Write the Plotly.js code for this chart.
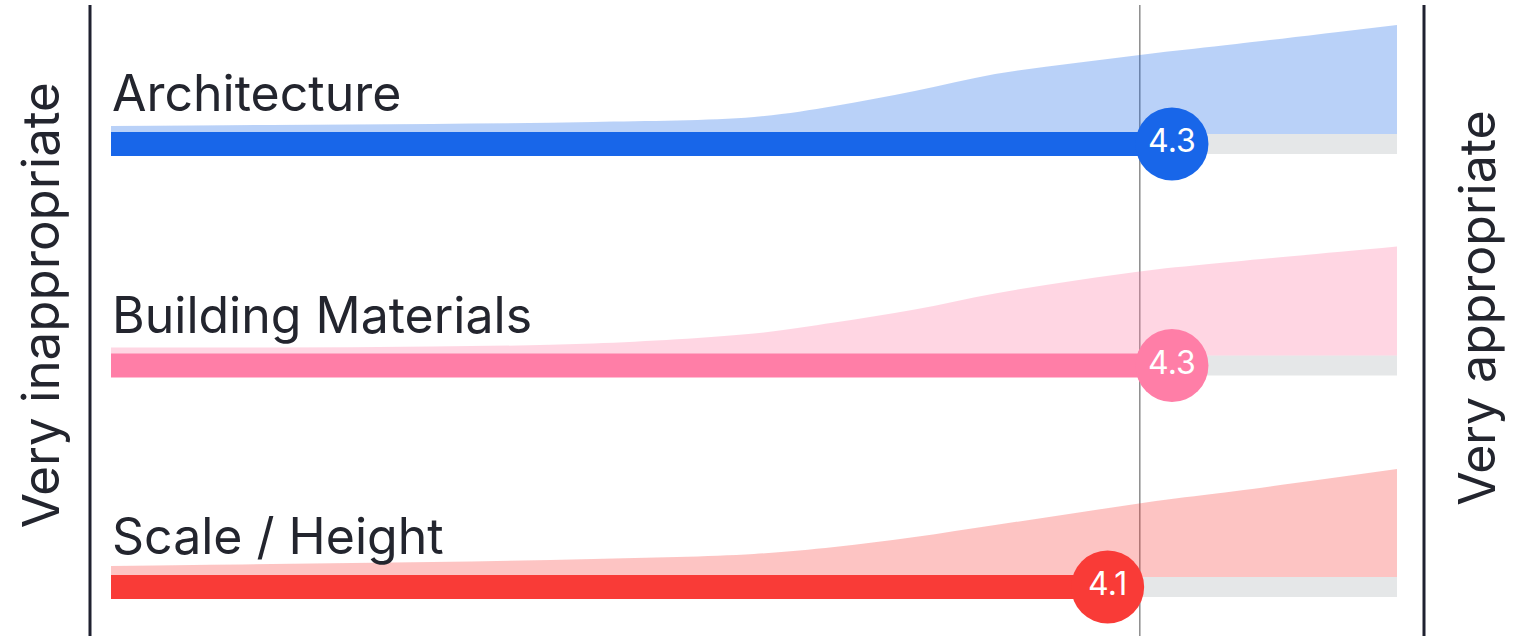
<!DOCTYPE html>
<html>
<head>
<meta charset="utf-8">
<script src="https://cdn.plot.ly/plotly-3.0.1.min.js"></script>
<style>
  html, body { margin: 0; padding: 0; background: #ffffff; }
  #chart { width: 1524px; height: 636px; }
</style>
</head>
<body>
<div id="chart"></div>
<script>
// ---------- data ----------
const categories = ["Architecture", "Building Materials", "Scale / Height"];
const means = [4.3, 4.3, 4.1];
const meanLabels = ["4.3", "4.3", "4.1"];
const scaleMin = 1;
const scaleMax = 5;
const referenceValue = 4.2;
const endLabels = ["Very inappropriate", "Very appropriate"];

// response distribution (relative density) along the 1–5 scale
const densityX = [1, 1.5, 2, 2.5, 3, 3.25, 3.5, 3.75, 4, 4.25, 4.5, 5];
const densityArchitecture      = [8, 9, 10, 12, 17, 28, 43, 60, 71, 81, 90, 109];
const densityBuildingMaterials = [8, 8, 9, 12, 22, 33, 46, 62, 75, 86, 94, 109];
const densityScaleHeight       = [11, 13, 15, 18, 23, 30, 40, 52, 64, 76, 86, 108];
const densities = [densityArchitecture, densityBuildingMaterials, densityScaleHeight];

// ---------- styling ----------
const barColors  = ["#1866E9", "#FF7EA7", "#F93B37"];
const areaColors = ["rgba(24,102,233,0.30)", "rgba(255,126,167,0.32)", "rgba(249,59,55,0.30)"];
const trackColor = "#E5E7E8";
const textColor  = "#23252E";
const FONT = "Inter, 'Noto Sans', sans-serif";

const W = 1524, H = 636;
const pxPerUnitX = 321.5;      // pixels per scale point
const x0px = 111;              // pixel of scale value 1
const rowPx = 221.5;           // pixel distance between rows
const row0px = 144;            // pixel of first row centre
const xRange = [scaleMin - x0px / pxPerUnitX, scaleMin + (W - x0px) / pxPerUnitX];
const yRange = [(H - row0px) / rowPx, -row0px / rowPx];   // reversed
const barW   = 24 / rowPx;
const trackW = 20 / rowPx;
const densityToY = 1 / rowPx;

const rows = categories.map((c, i) => i);
const traces = [];

// distribution areas (baseline + spline top filled to it)
categories.forEach((cat, i) => {
  const base = rows[i] - trackW / 2;
  traces.push({
    type: "scatter", mode: "lines",
    x: densityX, y: densityX.map(() => base),
    line: { width: 0, color: "rgba(0,0,0,0)" },
    hoverinfo: "skip", showlegend: false
  });
  traces.push({
    type: "scatter", mode: "lines",
    x: densityX, y: densities[i].map(d => base - d * densityToY),
    fill: "tonexty", fillcolor: areaColors[i],
    line: { width: 0, color: "rgba(0,0,0,0)", shape: "spline", smoothing: 1 },
    hoverinfo: "skip", showlegend: false
  });
});

// grey tracks (full scale)
traces.push({
  type: "bar", orientation: "h",
  y: rows, x: categories.map(() => scaleMax - scaleMin), base: scaleMin,
  width: trackW, marker: { color: trackColor },
  hoverinfo: "skip", showlegend: false
});

// coloured bars up to the mean
traces.push({
  type: "bar", orientation: "h",
  y: rows, x: means.map(m => m - scaleMin), base: scaleMin,
  width: barW, marker: { color: barColors },
  hoverinfo: "skip", showlegend: false
});

// circles with value labels
traces.push({
  type: "scatter", mode: "markers+text",
  x: means, y: rows, text: meanLabels,
  textposition: "middle center",
  textfont: { family: FONT, size: 32, color: "#ffffff" },
  marker: { size: 73, color: barColors, line: { width: 0 } },
  hoverinfo: "skip", showlegend: false, cliponaxis: false
});

const annotations = categories.map((c, i) => ({
  x: scaleMin, y: rows[i], xref: "x", yref: "y",
  text: c, showarrow: false, xanchor: "left", yanchor: "bottom",
  xshift: -1, yshift: 19,
  font: { family: FONT, size: 50, color: textColor }
}));
annotations.push({
  x: 40 / W, y: 0.52, xref: "paper", yref: "paper",
  text: endLabels[0], textangle: -90, showarrow: false,
  xanchor: "center", yanchor: "middle",
  font: { family: FONT, size: 51, color: textColor }
});
annotations.push({
  x: 1477 / W, y: 0.516, xref: "paper", yref: "paper",
  text: endLabels[1], textangle: -90, showarrow: false,
  xanchor: "center", yanchor: "middle",
  font: { family: FONT, size: 50, color: textColor }
});

const shapes = [
  { type: "line", xref: "paper", yref: "paper", x0: 90 / W, x1: 90 / W, y0: 0, y1: 1 - 5 / H,
    line: { color: "#1F2130", width: 3 }, layer: "above" },
  { type: "line", xref: "paper", yref: "paper", x0: 1424 / W, x1: 1424 / W, y0: 0, y1: 1 - 5 / H,
    line: { color: "#1F2130", width: 3 }, layer: "above" },
  { type: "line", xref: "x", yref: "paper", x0: referenceValue, x1: referenceValue, y0: 0, y1: 1 - 5 / H,
    line: { color: "#8C8C8C", width: 1.5 }, layer: "below" }
];

const layout = {
  width: W, height: H,
  margin: { l: 0, r: 0, t: 0, b: 0 },
  paper_bgcolor: "#ffffff", plot_bgcolor: "#ffffff",
  barmode: "overlay",
  xaxis: { range: xRange, visible: false, fixedrange: true },
  yaxis: { range: yRange, visible: false, fixedrange: true },
  annotations, shapes,
  showlegend: false
};

Plotly.newPlot("chart", traces, layout, { displayModeBar: false, staticPlot: true });
</script>
</body>
</html>
